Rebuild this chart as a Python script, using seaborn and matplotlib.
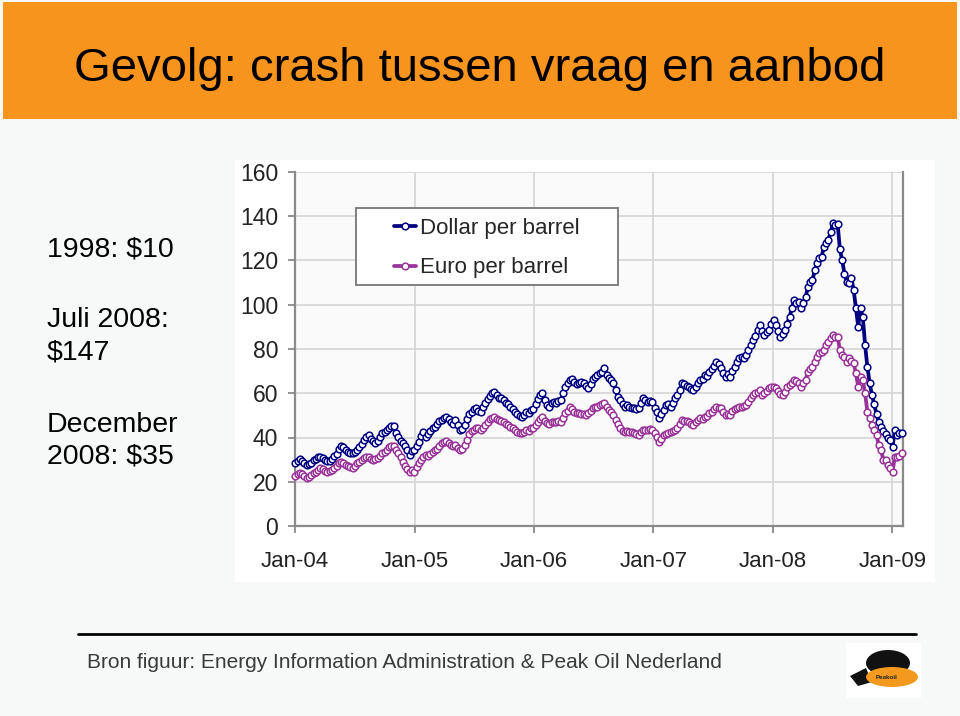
import matplotlib
matplotlib.use("Agg")
import matplotlib.pyplot as plt
import matplotlib.dates as mdates
from matplotlib.patches import Rectangle, Ellipse, Polygon
from matplotlib.lines import Line2D
import numpy as np
import pandas as pd
import seaborn as sns

sns.set_style("white")
plt.rcParams['font.family'] = ['Liberation Sans', 'DejaVu Sans']

# ---------------- data (weekly) ----------------
START_DATE = "2004-01-02"

dollar_2004 = [28.3, 29.2, 30.1, 29.5, 28.4, 27.6, 27.9, 28.6, 29.8, 30.4,
               31.0, 31.3, 30.8, 30.0, 29.6, 29.4, 30.5, 31.6, 32.4, 34.6,
               36.2, 35.6, 34.4, 33.5, 33.1, 32.8, 33.4, 34.3, 35.6, 37.0,
               38.8, 40.3, 41.1, 39.4, 38.5, 37.4, 38.2, 40.2, 41.9, 42.4,
               43.4, 44.3, 45.0, 45.2, 42.0, 40.1, 38.3, 37.4, 36.0, 34.2,
               32.3, 33.9, 34.5]
dollar_2005 = [36.0, 38.0, 40.5, 42.6, 40.4, 41.5, 43.0, 44.2, 44.9, 46.2,
               47.3, 47.9, 48.8, 49.4, 48.2, 47.1, 46.0, 47.9, 45.5, 43.4,
               44.0, 45.5, 48.5, 50.8, 51.5, 52.7, 53.5, 52.0, 51.5, 53.8,
               55.6, 57.5, 58.8, 60.0, 60.7, 59.2, 58.0, 57.8, 56.9, 55.8,
               55.2, 53.9, 53.0, 51.7, 50.5, 49.6, 49.4, 50.2, 51.5, 51.0,
               52.4, 52.8]
dollar_2006 = [55.0, 57.5, 59.0, 60.0, 57.0, 54.7, 54.0, 55.5, 56.2, 55.8,
               56.5, 56.9, 60.0, 63.0, 64.5, 66.0, 66.5, 65.0, 64.2, 64.5,
               65.2, 64.5, 63.5, 62.2, 64.0, 66.5, 67.5, 68.2, 69.0, 69.8,
               71.3, 68.3, 67.0, 65.8, 64.5, 61.5, 58.5, 56.9, 55.0, 53.9,
               54.5, 53.6, 53.2, 53.4, 53.0, 53.2, 55.5, 57.7, 57.0, 56.2,
               56.6, 56.2]
dollar_2007 = [53.5, 51.7, 48.7, 50.5, 52.5, 54.7, 55.0, 54.0, 55.5, 57.7,
               59.0, 61.5, 64.5, 64.0, 63.5, 63.0, 61.8, 61.5, 63.0, 64.5,
               66.0, 66.5, 68.3, 68.0, 69.7, 71.0, 72.5, 74.3, 73.0, 71.5,
               69.0, 67.5, 68.5, 67.5, 70.0, 72.0, 74.0, 75.8, 76.5, 76.0,
               77.5, 79.5, 81.8, 84.0, 86.0, 88.5, 90.8, 88.0, 86.3, 87.5,
               88.6, 91.5]
dollar_2008 = [93.1, 90.8, 88.0, 85.6, 87.0, 88.6, 91.5, 94.6, 98.5, 102.1,
               101.0, 101.4, 98.4, 101.0, 103.5, 108.0, 110.4, 111.0, 115.7, 119.0,
               121.0, 121.7, 126.2, 128.0, 129.3, 133.0, 136.8, 136.0, 136.5, 125.0,
               120.0, 114.0, 110.4, 109.7, 111.9, 106.7, 98.4, 90.1, 98.4, 94.6,
               81.8, 72.0, 64.5, 59.2, 55.0, 50.5, 47.1, 44.9, 43.0, 41.5,
               40.0, 38.9]
dollar_2009 = [35.8, 43.4, 41.1, 42.2, 41.9]

euro_2004 = [22.8, 23.3, 23.8, 23.4, 22.5, 21.6, 22.0, 23.0, 23.8, 24.5,
             25.3, 26.1, 25.6, 25.0, 24.5, 24.8, 25.5, 26.1, 27.0, 28.5,
             29.1, 28.4, 27.6, 27.0, 26.5, 26.1, 27.0, 28.3, 29.0, 30.0,
             30.8, 31.3, 31.0, 30.4, 29.8, 30.2, 30.6, 31.8, 33.0, 33.6,
             34.5, 35.8, 36.0, 36.2, 34.5, 32.8, 31.0, 29.1, 27.0, 25.8,
             24.5, 25.2, 24.4]
euro_2005 = [26.5, 28.5, 30.0, 31.3, 32.0, 31.6, 32.5, 33.5, 34.3, 35.0,
             36.2, 37.4, 38.0, 38.5, 37.5, 36.6, 36.0, 36.5, 35.1, 34.3,
             34.8, 36.5, 39.0, 41.5, 43.0, 43.4, 44.5, 44.1, 43.2, 44.5,
             45.6, 47.0, 48.3, 49.0, 49.4, 48.5, 47.9, 47.6, 47.1, 46.3,
             45.8, 44.9, 44.2, 43.3, 42.6, 42.0, 41.9, 42.5, 43.4, 43.0,
             44.1, 44.5]
euro_2006 = [45.5, 47.0, 48.5, 49.4, 47.5, 46.4, 46.0, 46.8, 47.1, 46.8,
             47.3, 47.1, 49.0, 50.9, 52.0, 53.9, 53.0, 51.5, 50.9, 51.0,
             50.5, 50.8, 50.2, 51.0, 52.0, 53.2, 53.6, 54.0, 54.7, 55.2,
             55.7, 53.9, 52.5, 51.5, 50.2, 48.0, 46.0, 44.1, 43.0, 42.6,
             43.0, 42.4, 42.6, 42.2, 41.8, 41.1, 42.5, 43.4, 43.6, 43.4,
             43.8, 43.4]
euro_2007 = [42.0, 40.4, 38.1, 39.5, 41.0, 41.8, 42.0, 42.6, 43.0, 43.5,
             44.1, 46.0, 47.9, 47.5, 47.3, 47.1, 46.2, 45.6, 47.0, 48.0,
             48.7, 48.5, 49.4, 49.8, 51.0, 51.7, 52.8, 53.9, 53.5, 53.2,
             51.5, 50.2, 50.6, 50.2, 51.8, 52.8, 53.2, 53.6, 53.9, 54.2,
             54.7, 56.0, 57.7, 59.0, 60.0, 60.7, 61.5, 59.2, 60.0, 61.0,
             62.2, 63.0]
euro_2008 = [63.0, 62.5, 61.0, 59.5, 59.2, 60.5, 63.0, 63.8, 64.5, 66.0,
             65.5, 64.5, 63.0, 64.5, 66.0, 69.7, 71.0, 72.0, 74.3, 76.5,
             78.1, 78.5, 79.5, 82.0, 83.3, 85.0, 86.3, 85.6, 85.6, 79.5,
             77.5, 76.5, 74.3, 75.8, 74.5, 73.5, 69.0, 63.0, 67.5, 66.0,
             60.0, 51.7, 48.7, 45.6, 43.5, 41.1, 36.6, 34.3, 29.8, 29.8,
             27.5, 26.1]
euro_2009 = [24.5, 31.3, 31.3, 31.7, 32.8]

series_names = ["Dollar per barrel", "Euro per barrel"]
series_colors = ["#000080", "#993399"]
y_ticks = [0, 20, 40, 60, 80, 100, 120, 140, 160]
x_tick_years = ["2004", "2005", "2006", "2007", "2008", "2009"]

title_text = "Gevolg: crash tussen vraag en aanbod"
left_lines = ["1998: $10", "Juli 2008:", "$147", "December", "2008: $35"]
source_text = "Bron figuur: Energy Information Administration & Peak Oil Nederland"

dollar = dollar_2004 + dollar_2005 + dollar_2006 + dollar_2007 + dollar_2008 + dollar_2009
euro = euro_2004 + euro_2005 + euro_2006 + euro_2007 + euro_2008 + euro_2009
dates = pd.date_range(START_DATE, periods=len(dollar), freq="7D")
df = pd.DataFrame({"date": dates, series_names[0]: dollar, series_names[1]: euro})
df = df.melt(id_vars="date", var_name="series", value_name="price")

# ---------------- figure ----------------
W, H = 960, 716
fig = plt.figure(figsize=(W / 100, H / 100), dpi=100, facecolor="#F7F9F9")


def fx(x):
    return x / W


def fy(y):
    return 1 - y / H


def frect(x0, y0, x1, y1, z=-5, **kw):
    r = Rectangle((fx(x0), fy(y1)), (x1 - x0) / W, (y1 - y0) / H,
                  transform=fig.transFigure, zorder=z, **kw)
    fig.patches.append(r)
    return r


# title bar
frect(3, 2, 957, 119, facecolor="#F7941E", edgecolor="none")
fig.text(fx(480), fy(81), title_text, ha="center", va="baseline",
         fontsize=34, color="black")

# left text
left_base = [256.5, 326.5, 360, 432, 463]
for s, yb in zip(left_lines, left_base):
    fig.text(fx(47), fy(yb), s, ha="left", va="baseline", fontsize=20.5, color="black")

# chart picture background
frect(235, 160, 935, 582, facecolor="white", edgecolor="none")

# source line and text
fig.add_artist(Line2D([fx(78), fx(916)], [fy(634), fy(634)], color="black", lw=2,
                      transform=fig.transFigure))
fig.text(fx(87), fy(668), source_text, ha="left", va="baseline", fontsize=15, color="#3A3A3A")

# logo (simplified)
frect(846, 643, 921, 698, facecolor="white", edgecolor="none")
fig.patches.append(Ellipse((fx(888), fy(663)), 44 / W, 26 / H, transform=fig.transFigure,
                           facecolor="#111111", edgecolor="none", zorder=-3))
fig.patches.append(Ellipse((fx(892), fy(677)), 52 / W, 20 / H, transform=fig.transFigure,
                           facecolor="#F39A1E", edgecolor="none", zorder=-2))
fig.patches.append(Polygon([(fx(850), fy(676)), (fx(866), fy(668)), (fx(872), fy(682)),
                            (fx(858), fy(686))], closed=True, transform=fig.transFigure,
                           facecolor="#111111", edgecolor="none", zorder=-3))
fig.text(fx(887), fy(679), "Peakoil", ha="center", va="baseline", fontsize=4.5,
         fontweight="bold", color="#222222", zorder=4)

# axes
AX_L, AX_R, AX_T, AX_B = 295, 903, 172, 526
ax = fig.add_axes([fx(AX_L), fy(AX_B), (AX_R - AX_L) / W, (AX_B - AX_T) / H])
ax.set_zorder(5)
ax.set_facecolor("#FAFAFA")
sns.lineplot(data=df, x="date", y="price", hue="series", hue_order=series_names,
             palette=dict(zip(series_names, series_colors)), marker="o",
             markersize=4.8, linewidth=2.7, ax=ax, legend=False, zorder=3)
for ln, c in zip(ax.lines, series_colors):
    ln.set_markerfacecolor("white")
    ln.set_markeredgecolor(c)
    ln.set_markeredgewidth(1.1)
    ln.set_clip_on(False)

ax.set_ylim(0, 160)
ax.set_yticks(y_ticks)
ax.set_xlim(pd.Timestamp("2004-01-01"), pd.Timestamp("2009-02-03"))
ax.set_xticks([pd.Timestamp(y + "-01-01") for y in x_tick_years])
ax.xaxis.set_major_formatter(mdates.DateFormatter("%b-%y"))
ax.set_xlabel("")
ax.set_ylabel("")
ax.grid(True, color="#D4D4D4", lw=1.2, zorder=0)
ax.set_axisbelow(True)
for side in ["left", "bottom", "right", "top"]:
    ax.spines[side].set_color("#8A8A8A")
    ax.spines[side].set_linewidth(1.6)
ax.spines["top"].set_visible(False)
ax.tick_params(axis="y", direction="out", length=5, width=1.3, color="#8A8A8A",
               labelsize=16.5, pad=7, labelcolor="#222222", left=True)
ax.tick_params(axis="x", direction="out", length=5, width=1.3, color="#8A8A8A",
               labelsize=16, pad=13, labelcolor="#222222", bottom=True)


def ax_x(px):
    return (px - AX_L) / (AX_R - AX_L)


def ax_y(py):
    return (AX_B - py) / (AX_B - AX_T)


# legend box (white, grey border)
ax.add_patch(Rectangle((ax_x(356), ax_y(285)), ax_x(618) - ax_x(356), ax_y(208) - ax_y(285),
                       transform=ax.transAxes, facecolor="white", edgecolor="#7F7F7F",
                       lw=1.4, zorder=4, clip_on=False))
handles = [Line2D([0], [0], color=c, lw=2.7, marker="o", markersize=4.8,
                  markerfacecolor="white", markeredgecolor=c, markeredgewidth=1.1)
           for c in series_colors]
leg = ax.legend(handles, series_names, loc="center left",
                bbox_to_anchor=(ax_x(394), ax_y(248)),
                borderaxespad=0, borderpad=0, fontsize=16, frameon=False,
                handlelength=1.0, handletextpad=0.15, labelspacing=0.85)
leg.set_zorder(6)

fig.savefig("out.png", dpi=100, facecolor=fig.get_facecolor())
